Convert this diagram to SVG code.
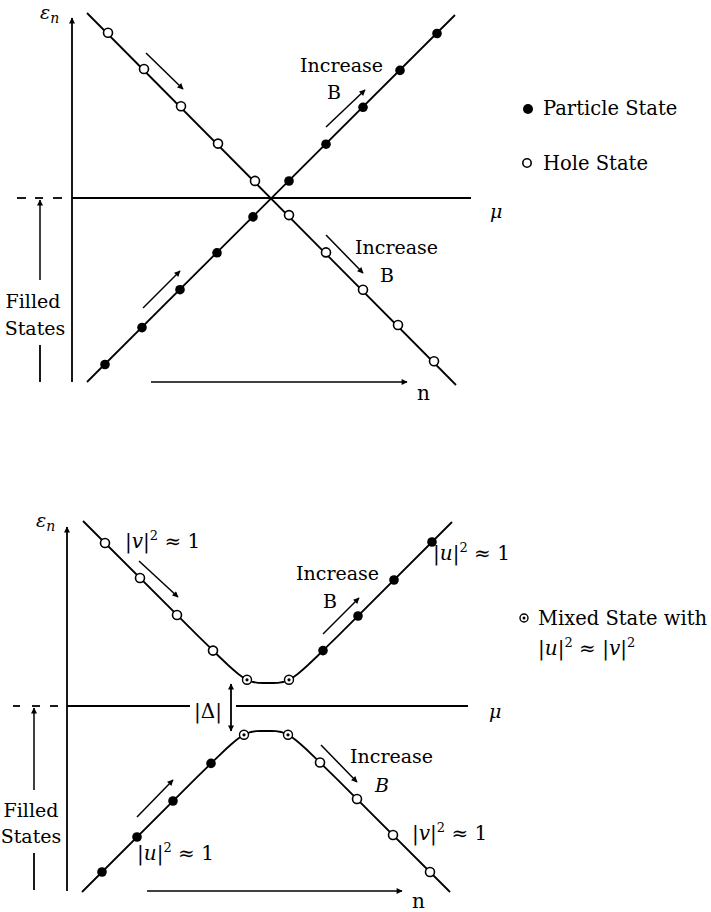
<svg xmlns="http://www.w3.org/2000/svg" width="711" height="912" viewBox="0 0 711 912">
<style>
.ln{fill:none;stroke:#000;stroke-width:1.8}
.ax{fill:none;stroke:#000;stroke-width:1.8}
.ar{fill:none;stroke:#000;stroke-width:1.5;marker-end:url(#ah)}
.op{fill:#fff;stroke:#000;stroke-width:1.6}
.fl{fill:#000}
.mx{fill:#fff;stroke:#000;stroke-width:1.4}
text{font-family:'DejaVu Serif',serif;font-size:19px;fill:#000}
.it{font-style:italic}
.lg{font-size:19.5px}
.fs{font-size:19px}
.m{font-size:20px}
.sup{font-size:13px}
</style>
<defs>
<marker id="ah" viewBox="0 0 10 10" refX="9" refY="5" markerWidth="8" markerHeight="6" markerUnits="userSpaceOnUse" orient="auto-start-reverse">
<path d="M0,0 L10,5 L0,10 Z" fill="#000"/>
</marker>
</defs>

<!-- ================= TOP DIAGRAM ================= -->
<g id="top-axes">
<line class="ax" x1="72" y1="382" x2="72" y2="18" marker-end="url(#ah)"/>
<line class="ax" x1="72" y1="198" x2="471" y2="198"/>
<line class="ax" x1="17" y1="198" x2="26" y2="198"/>
<line class="ax" x1="35" y1="198" x2="43" y2="198"/>
<line class="ax" x1="53" y1="198" x2="62" y2="198"/>
<text class="it" x="40" y="19" font-size="19">ε<tspan font-size="14" dy="4">n</tspan></text>
<text class="it" x="490" y="218" font-size="20">μ</text>
</g>

<g id="top-filled-states">
<line class="ar" x1="40" y1="280" x2="40" y2="200"/>
<line class="ln" x1="40" y1="345" x2="40" y2="382" stroke-width="1.5"/>
<text class="fs" x="33" y="308" text-anchor="middle">Filled</text>
<text class="fs" x="35" y="335" text-anchor="middle">States</text>
</g>

<g id="top-n-axis">
<line class="ar" x1="151" y1="382" x2="407" y2="382"/>
<text class="m" x="417" y="400">n</text>
</g>

<g id="top-hole-line">
<line class="ln" x1="87" y1="13" x2="456" y2="385"/>
<circle class="op" cx="108" cy="32.7" r="4.5"/>
<circle class="op" cx="144" cy="69" r="4.5"/>
<circle class="op" cx="181" cy="106.3" r="4.5"/>
<circle class="op" cx="218" cy="143.6" r="4.5"/>
<circle class="op" cx="255" cy="180.9" r="4.5"/>
<circle class="op" cx="289" cy="215.1" r="4.5"/>
<circle class="op" cx="326" cy="252.4" r="4.5"/>
<circle class="op" cx="363" cy="289.7" r="4.5"/>
<circle class="op" cx="398" cy="325" r="4.5"/>
<circle class="op" cx="434" cy="361.3" r="4.5"/>
</g>

<g id="top-particle-line">
<line class="ln" x1="87" y1="382" x2="455" y2="15"/>
<circle class="fl" cx="105" cy="364.5" r="4.8"/>
<circle class="fl" cx="142" cy="327.6" r="4.8"/>
<circle class="fl" cx="180" cy="289.7" r="4.8"/>
<circle class="fl" cx="217" cy="252.8" r="4.8"/>
<circle class="fl" cx="253" cy="216.9" r="4.8"/>
<circle class="fl" cx="289" cy="181" r="4.8"/>
<circle class="fl" cx="326" cy="144.2" r="4.8"/>
<circle class="fl" cx="363" cy="107.3" r="4.8"/>
<circle class="fl" cx="400" cy="70.4" r="4.8"/>
<circle class="fl" cx="437" cy="33.5" r="4.8"/>
</g>

<g id="top-increase-upper">
<text x="300" y="72">Increase</text>
<text x="327" y="99">B</text>
</g>
<g id="top-increase-lower">
<text x="355" y="254">Increase</text>
<text x="380" y="282">B</text>
</g>

<g id="top-legend">
<circle class="fl" cx="528" cy="109" r="5"/>
<text class="lg" x="543" y="115">Particle State</text>
<circle class="op" cx="527" cy="163" r="4.2"/>
<text class="lg" x="543" y="170">Hole State</text>
</g>

<g id="top-connectors">
<line class="ar" x1="146" y1="53" x2="183" y2="89"/>
<line class="ar" x1="326" y1="127" x2="365" y2="90"/>
<line class="ar" x1="326" y1="235" x2="363" y2="273"/>
<line class="ar" x1="143" y1="308" x2="180" y2="271"/>
</g>

<!-- ================= BOTTOM DIAGRAM ================= -->
<g id="bottom-axes">
<line class="ax" x1="67" y1="891" x2="67" y2="527" marker-end="url(#ah)"/>
<line class="ax" x1="67" y1="706" x2="190" y2="706"/>
<line class="ax" x1="236" y1="706" x2="468" y2="706"/>
<line class="ax" x1="13" y1="706" x2="20" y2="706"/>
<line class="ax" x1="32" y1="706" x2="40" y2="706"/>
<line class="ax" x1="50" y1="706" x2="58" y2="706"/>
<text class="it" x="36" y="527" font-size="19">ε<tspan font-size="14" dy="4">n</tspan></text>
<text class="it" x="489" y="718" font-size="20">μ</text>
</g>

<g id="bottom-gap">
<text class="m" x="194" y="718">|Δ|</text>
<line class="ln" x1="231" y1="684" x2="231" y2="731" stroke-width="1.4" marker-start="url(#ah)" marker-end="url(#ah)"/>
</g>

<g id="bottom-filled-states">
<line class="ar" x1="34" y1="790" x2="34" y2="708"/>
<line class="ln" x1="34" y1="853" x2="34" y2="890" stroke-width="1.5"/>
<text class="fs" x="31" y="817" text-anchor="middle">Filled</text>
<text class="fs" x="31" y="843" text-anchor="middle">States</text>
</g>

<g id="bottom-n-axis">
<line class="ar" x1="147" y1="891" x2="402" y2="891"/>
<text class="m" x="412" y="908">n</text>
</g>

<g id="bottom-upper-branch">
<polyline class="ln" points="83,521 198,635.8 208,645.7 218,655.5 228,665 233,669.5 238,673.7 243,677.4 248,680.3 253,682 258,682.8 263,683 268,683 273,683 278,682.8 283,682 288,680.3 293,677.4 298,673.7 303,669.5 308,665 318,655.5 328,645.7 338,635.8 452,522"/>
<circle class="op" cx="105" cy="543" r="4.5"/>
<circle class="op" cx="140" cy="578" r="4.5"/>
<circle class="op" cx="177" cy="615" r="4.5"/>
<circle class="op" cx="213" cy="650.6" r="4.5"/>
<circle class="mx" cx="247" cy="679.8" r="4.5"/>
<circle class="fl" cx="247" cy="679.8" r="1.6"/>
<circle class="mx" cx="289" cy="679.8" r="4.5"/>
<circle class="fl" cx="289" cy="679.8" r="1.6"/>
<circle class="fl" cx="323" cy="650.6" r="4.8"/>
<circle class="fl" cx="358" cy="616" r="4.8"/>
<circle class="fl" cx="394" cy="580" r="4.8"/>
<circle class="fl" cx="432" cy="542" r="4.8"/>
</g>

<g id="bottom-lower-branch">
<polyline class="ln" points="82,892 196,778.2 206,768.3 216,758.6 226,749 231,744.5 236,740.3 241,736.6 246,733.8 251,732 256,731.2 261,731 266,731 271,731 276,731.2 281,732 286,733.8 291,736.6 296,740.3 301,744.5 306,749 316,758.6 326,768.3 336,778.2 450,892"/>
<circle class="fl" cx="102" cy="872" r="4.8"/>
<circle class="fl" cx="137" cy="837" r="4.8"/>
<circle class="fl" cx="173" cy="801" r="4.8"/>
<circle class="fl" cx="211" cy="763.4" r="4.8"/>
<circle class="mx" cx="244" cy="734.8" r="4.5"/>
<circle class="fl" cx="244" cy="734.8" r="1.6"/>
<circle class="mx" cx="288" cy="734.8" r="4.5"/>
<circle class="fl" cx="288" cy="734.8" r="1.6"/>
<circle class="op" cx="320" cy="762.5" r="4.5"/>
<circle class="op" cx="357" cy="799" r="4.5"/>
<circle class="op" cx="393" cy="835" r="4.5"/>
<circle class="op" cx="430" cy="872" r="4.5"/>
</g>

<g id="bottom-labels">
<text class="m" x="125" y="548">|<tspan class="it">v</tspan>|<tspan class="sup" dy="-8">2</tspan><tspan dy="8"> ≈ 1</tspan></text>
<text class="m" x="433" y="560">|<tspan class="it">u</tspan>|<tspan class="sup" dy="-8">2</tspan><tspan dy="8"> ≈ 1</tspan></text>
<text class="m" x="412" y="840">|<tspan class="it">v</tspan>|<tspan class="sup" dy="-8">2</tspan><tspan dy="8"> ≈ 1</tspan></text>
<text class="m" x="137" y="860">|<tspan class="it">u</tspan>|<tspan class="sup" dy="-8">2</tspan><tspan dy="8"> ≈ 1</tspan></text>
</g>

<g id="bottom-increase-upper">
<text x="296" y="580">Increase</text>
<text x="323" y="608">B</text>
</g>
<g id="bottom-increase-lower">
<text x="350" y="763">Increase</text>
<text class="it" x="375" y="792">B</text>
</g>

<g id="bottom-legend">
<circle class="mx" cx="524" cy="618" r="4"/>
<circle class="fl" cx="524" cy="618" r="1.5"/>
<text class="lg" x="538" y="625">Mixed State with</text>
<text class="m" x="538" y="655">|<tspan class="it">u</tspan>|<tspan class="sup" dy="-8">2</tspan><tspan dy="8"> ≈ |</tspan><tspan class="it">v</tspan>|<tspan class="sup" dy="-8">2</tspan></text>
</g>

<g id="bottom-connectors">
<line class="ar" x1="139" y1="561" x2="178" y2="597"/>
<line class="ar" x1="323" y1="634" x2="359" y2="598"/>
<line class="ar" x1="321" y1="745" x2="357" y2="782"/>
<line class="ar" x1="137" y1="817" x2="173" y2="780"/>
</g>
</svg>
